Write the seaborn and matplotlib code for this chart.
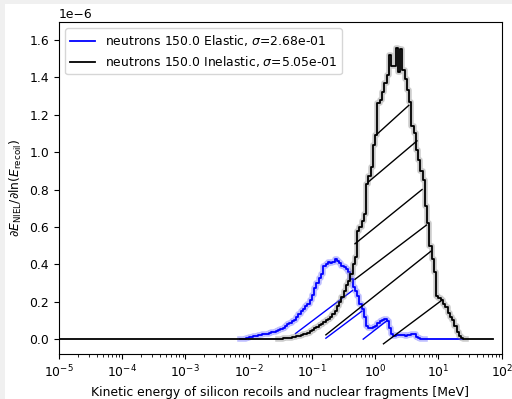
import numpy as np
import seaborn as sns
import matplotlib.pyplot as plt
from matplotlib.patches import Rectangle

plt.rcParams["font.size"] = 8.9

# log binning of recoil energy (MeV)
bins_per_decade = 28
log_e_min = -5

# elastic: values in units of 1e-6, first non-zero bin index, first/last drawn bin
elastic_start = 81
elastic_first = 80
elastic_nbins = 179
elastic_vals = [0.002, 0.003, 0.005, 0.010, 0.014, 0.016, 0.018, 0.020, 0.022, 0.025,
                0.028, 0.030, 0.033, 0.036, 0.040, 0.043, 0.047, 0.052, 0.060, 0.070,
                0.080, 0.085, 0.095, 0.105, 0.120, 0.135, 0.150, 0.160, 0.175, 0.190,
                0.210, 0.235, 0.275, 0.300, 0.325, 0.350, 0.390, 0.400, 0.410, 0.405,
                0.410, 0.430, 0.420, 0.405, 0.390, 0.385, 0.375, 0.360, 0.320, 0.280,
                0.260, 0.230, 0.190, 0.160, 0.120, 0.070, 0.060, 0.060, 0.065, 0.070,
                0.085, 0.095, 0.100, 0.110, 0.095, 0.060, 0.030, 0.018, 0.020, 0.022,
                0.023, 0.020, 0.018, 0.020, 0.023, 0.028, 0.030, 0.012, 0.005, 0.002]

# inelastic
inelastic_start = 98
inelastic_first = 0
inelastic_nbins = 192
inelastic_vals = [0.003, 0.004, 0.005, 0.006, 0.008, 0.010, 0.012, 0.015, 0.018, 0.020,
                  0.025, 0.030, 0.035, 0.042, 0.050, 0.058, 0.066, 0.074, 0.082, 0.090,
                  0.100, 0.110, 0.120, 0.135, 0.150, 0.175, 0.200, 0.225, 0.255, 0.290,
                  0.310, 0.350, 0.400, 0.440, 0.580, 0.600, 0.630, 0.670, 0.830, 0.870,
                  0.920, 1.040, 1.090, 1.260, 1.280, 1.320, 1.370, 1.410, 1.520, 1.460,
                  1.460, 1.555, 1.430, 1.550, 1.440, 1.390, 1.330, 1.270, 1.140, 1.100,
                  1.010, 0.960, 0.900, 0.850, 0.710, 0.620, 0.500, 0.430, 0.360, 0.230,
                  0.220, 0.210, 0.190, 0.170, 0.140, 0.120, 0.100, 0.070, 0.040, 0.015,
                  0.005]

# stray wrap-around segments in the original plot (E in MeV, value in 1e-6)
elastic_seg_e0 = [0.055, 0.166, 0.646]
elastic_seg_v0 = [0.03, 0.005, 0.0]
elastic_seg_e1 = [0.437, 0.617, 1.55]
elastic_seg_v1 = [0.26, 0.15, 0.10]

inelastic_seg_e0 = [1.02, 0.776, 0.479, 0.479, 0.166, 1.35]
inelastic_seg_v0 = [1.09, 0.84, 0.51, 0.32, 0.023, -0.025]
inelastic_seg_e1 = [3.39, 4.57, 5.50, 6.46, 7.59, 11.5]
inelastic_seg_v1 = [1.25, 1.06, 0.80, 0.61, 0.47, 0.21]

labels = [r"neutrons 150.0 Elastic, $\sigma$=2.68e-01",
          r"neutrons 150.0 Inelastic, $\sigma$=5.05e-01"]


def to_steps(start, vals, first, last):
    y = np.zeros(last)
    y[start:start + len(vals)] = vals
    edges = 10.0 ** (log_e_min + np.arange(last + 1) / bins_per_decade)
    y = np.append(y, y[-1]) * 1e-6
    return edges[first:], y[first:]


fig = plt.figure(figsize=(5.12, 3.99), dpi=100, facecolor="#f0f0f0")
fig.patches.append(Rectangle((5 / 512, 0), 1, 1 - 4 / 399, transform=fig.transFigure,
                             facecolor="white", edgecolor="none", zorder=-5))
ax = fig.add_axes([0.115, 0.113, 0.865, 0.832])
ax.set_xscale("log")

series = [(elastic_start, elastic_vals, elastic_first, elastic_nbins, "blue", "#6060ff",
           elastic_seg_e0, elastic_seg_v0, elastic_seg_e1, elastic_seg_v1),
          (inelastic_start, inelastic_vals, inelastic_first, inelastic_nbins, "black", "#808080",
           inelastic_seg_e0, inelastic_seg_v0, inelastic_seg_e1, inelastic_seg_v1)]

for (start, vals, first, nb, col, band, e0, v0, e1, v1), lab in zip(series, labels):
    x, y = to_steps(start, vals, first, nb)
    # uncertainty halo only where the histogram is filled
    hx, hy = to_steps(start, vals, start - 1, start + len(vals) + 1)
    sns.lineplot(x=hx, y=hy, drawstyle="steps-post", color=band, alpha=0.4, lw=4,
                 sort=False, estimator=None, ax=ax)
    sns.lineplot(x=x, y=y, drawstyle="steps-post", color=col, lw=1.3,
                 sort=False, estimator=None, label=lab, ax=ax)
    for a, b, c, d in zip(e0, v0, e1, v1):
        ax.plot([a, c], [b * 1e-6, d * 1e-6], color=col, lw=1.0)

ax.set_xlim(1e-5, 1e2)
ax.set_ylim(-0.079e-6, 1.696e-6)
ax.set_xlabel("Kinetic energy of silicon recoils and nuclear fragments [MeV]")
ax.set_ylabel(r"$\partial E_{\rm NIEL}/\partial \ln(E_{\rm recoil})$")
ax.legend(loc="upper left")

plt.savefig("out.png", dpi=100, facecolor=fig.get_facecolor())
